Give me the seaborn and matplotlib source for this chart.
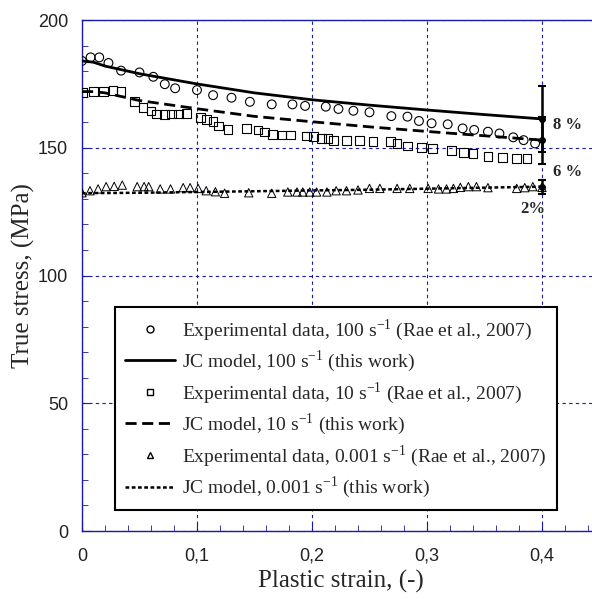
import numpy as np
import pandas as pd
import seaborn as sns
import matplotlib.pyplot as plt
from matplotlib.lines import Line2D
from matplotlib.ticker import AutoMinorLocator, FuncFormatter, MultipleLocator

exp100_x = [0, 0.0075, 0.015, 0.023, 0.034, 0.050, 0.062, 0.072, 0.081, 0.100, 0.114,
            0.130, 0.146, 0.165, 0.183, 0.194, 0.212, 0.223, 0.236, 0.250, 0.269, 0.283,
            0.293, 0.304, 0.318, 0.331, 0.341, 0.353, 0.363, 0.375, 0.384, 0.394]
exp100_y = [184, 185.4, 185.4, 183.2, 180.2, 179.5, 177.8, 174.9, 173.3, 172.6, 170.6,
            169.6, 168, 167, 167, 166.4, 166.1, 165.2, 164.5, 163.9, 162.4, 162.2,
            160.5, 159.6, 159.2, 157.6, 157, 156.3, 155.6, 154.1, 153, 151.7]

exp10_x = [0.0006, 0.010, 0.019, 0.027, 0.034, 0.046, 0.053, 0.060, 0.065, 0.072, 0.078,
           0.084, 0.091, 0.103, 0.108, 0.114, 0.119, 0.127, 0.143, 0.153, 0.159, 0.166,
           0.174, 0.181, 0.195, 0.201, 0.208, 0.214, 0.219, 0.230, 0.241, 0.253, 0.268,
           0.274, 0.283, 0.295, 0.305, 0.321, 0.332, 0.340, 0.353, 0.366, 0.378, 0.387]
exp10_y = [171.7, 172, 172, 172.3, 172, 168, 165.7, 164.4, 163.2, 163, 163.2,
           163.2, 163.5, 161.8, 161.2, 160.2, 158.5, 157.2, 157.6, 157, 156.2, 155.3,
           155, 155, 154.6, 154.3, 153.6, 153.6, 153, 153, 152.8, 152.6, 152.4,
           151.8, 150.7, 150.2, 149.8, 148.9, 148.1, 147.9, 146.5, 146.2, 145.9, 145.9]

exp001_x = [0, 0.007, 0.014, 0.021, 0.028, 0.035, 0.048, 0.054, 0.058, 0.068, 0.077,
            0.088, 0.094, 0.101, 0.108, 0.116, 0.124, 0.145, 0.165, 0.179, 0.187, 0.192,
            0.198, 0.204, 0.213, 0.221, 0.230, 0.240, 0.250, 0.259, 0.274, 0.285, 0.301,
            0.310, 0.317, 0.323, 0.329, 0.336, 0.343, 0.353, 0.378, 0.385, 0.392, 0.400]
exp001_y = [132.4, 133.2, 133.9, 134.8, 134.9, 135.4, 134.8, 134.8, 134.8, 133.9, 133.9,
            134.4, 134.4, 134.1, 133.2, 132.8, 132.2, 132.4, 132.2, 132.7, 132.7, 132.7,
            132.7, 132.7, 132.7, 133.2, 133.2, 133.5, 134.1, 134.1, 134.1, 134.1, 134.1,
            133.9, 133.9, 134.1, 134.5, 134.8, 134.8, 134.4, 134.1, 134.4, 134.8, 134.5]

# JC model curves (this work)
jc_x = [0, 0.01, 0.02, 0.05, 0.1, 0.15, 0.2, 0.25, 0.3, 0.35, 0.4]
jc100_y = [184, 183.5, 182, 179, 175, 171.5, 168.8, 166.7, 164.8, 163, 161.3]
jc10_y = [172, 172, 171.5, 168.5, 165.3, 162.3, 160.2, 158.2, 156.4, 154.7, 153]
jc001_y = [132.2, 132.3, 132.3, 132.4, 132.7, 133.0, 133.3, 133.6, 134.0, 134.4, 134.8]

# scatter bars at eps = 0.4
err_x = [0.4, 0.4, 0.4]
err_y = [161.3, 153, 134.8]
err_pct = [8, 6, 2]

sns.set_style('ticks')
plt.rcParams['font.family'] = ['Liberation Serif', 'DejaVu Serif']
plt.rcParams['mathtext.fontset'] = 'custom'
plt.rcParams['mathtext.rm'] = 'Liberation Serif'

fig = plt.figure(figsize=(5.92, 5.99), dpi=100)
ax = fig.add_axes([0.1385, 0.1135, 0.45 * 1150 / 592, 0.853])

blue = '#1a1aa8'
exp = pd.DataFrame({'x': exp100_x, 'y': exp100_y})
sns.scatterplot(data=exp, x='x', y='y', marker='o', s=40, facecolor='none',
                edgecolor='black', linewidth=0.8, ax=ax, zorder=3)
exp = pd.DataFrame({'x': exp10_x, 'y': exp10_y})
sns.scatterplot(data=exp, x='x', y='y', marker='s', s=40, facecolor='none',
                edgecolor='black', linewidth=0.8, ax=ax, zorder=3)
exp = pd.DataFrame({'x': exp001_x, 'y': exp001_y})
sns.scatterplot(data=exp, x='x', y='y', marker='^', s=36, facecolor='none',
                edgecolor='black', linewidth=0.7, ax=ax, zorder=3)

jc = pd.DataFrame({'x': jc_x, 'jc100': jc100_y, 'jc10': jc10_y, 'jc001': jc001_y})
sns.lineplot(data=jc, x='x', y='jc100', color='black', linewidth=2, ax=ax, zorder=4)
sns.lineplot(data=jc, x='x', y='jc10', color='black', linewidth=2, dashes=False, ax=ax,
             zorder=4).lines[-1].set_dashes((4, 2))
sns.lineplot(data=jc, x='x', y='jc001', color='black', linewidth=1.8, ax=ax,
             zorder=4).lines[-1].set_dashes((1.5, 1))

for x, y, p in zip(err_x, err_y, err_pct):
    ax.errorbar(x, y, yerr=y * p / 100, color='black', capsize=3, elinewidth=1.8,
                capthick=1.5, zorder=5)
    ax.plot(x, y, marker='o', ms=4, color='black', zorder=6)

ax.text(0.410, 159, '8 %', fontsize=12, fontweight='bold', va='center')
ax.text(0.410, 140.5, '6 %', fontsize=12, fontweight='bold', va='center')
ax.text(0.381, 126, '2%', fontsize=12, fontweight='bold', va='center')

ax.set_xlim(0, 0.45)
ax.set_ylim(0, 200)
ax.xaxis.set_major_locator(MultipleLocator(0.1))
ax.yaxis.set_major_locator(MultipleLocator(50))
ax.xaxis.set_minor_locator(AutoMinorLocator(5))
ax.yaxis.set_minor_locator(AutoMinorLocator(5))
ax.xaxis.set_major_formatter(FuncFormatter(lambda v, _: '0' if abs(v) < 1e-9 else f'{v:.1f}'.replace('.', ',')))
ax.yaxis.set_major_formatter(FuncFormatter(lambda v, _: f'{v:.0f}'))
ax.grid(True, which='major', color=blue, linestyle=(0, (3, 3)), linewidth=0.8)
ax.tick_params(which='both', direction='in', colors=blue, labelcolor='#222222',
               labelsize=13, top=False, right=False)
ax.tick_params(which='major', length=6)
ax.tick_params(which='minor', length=4)
ax.tick_params(axis='x', which='major', pad=12)
ax.tick_params(axis='y', which='major', pad=10)
for lab in ax.get_xticklabels() + ax.get_yticklabels():
    lab.set_fontfamily('Liberation Sans')
for side in ['left', 'bottom', 'top']:
    ax.spines[side].set_color(blue)
    ax.spines[side].set_linewidth(1)
ax.spines['right'].set_visible(False)

ax.set_xlabel('Plastic strain, (-)', fontsize=18, labelpad=4)
ax.set_ylabel('True stress, (MPa)', fontsize=18, labelpad=2)

handles = [
    Line2D([], [], marker='o', ls='none', mfc='none', mec='black', ms=5),
    Line2D([], [], color='black', lw=2),
    Line2D([], [], marker='s', ls='none', mfc='none', mec='black', ms=5),
    Line2D([], [], color='black', lw=2, dashes=(4, 2)),
    Line2D([], [], marker='^', ls='none', mfc='none', mec='black', ms=5),
    Line2D([], [], color='black', lw=1.8, dashes=(1.5, 1)),
]
labels = [
    r'Experimental data, 100 s$^{\mathregular{-1}}$ (Rae et al., 2007)',
    r'JC model, 100 s$^{\mathregular{-1}}$ (this work)',
    r'Experimental data, 10 s$^{\mathregular{-1}}$ (Rae et al., 2007)',
    r'JC model, 10 s$^{\mathregular{-1}}$ (this work)',
    r'Experimental data, 0.001 s$^{\mathregular{-1}}$ (Rae et al., 2007)',
    r'JC model, 0.001 s$^{\mathregular{-1}}$ (this work)',
]
leg = ax.legend(handles, labels, loc='lower left', bbox_to_anchor=(0.064, 0.041),
                borderaxespad=0, fontsize=14, frameon=True, fancybox=False,
                edgecolor='black', framealpha=1, handlelength=2.6, handletextpad=0.35,
                labelspacing=0.3, borderpad=0.5)
leg.get_frame().set_linewidth(1.5)

plt.savefig('out.png', dpi=100)
